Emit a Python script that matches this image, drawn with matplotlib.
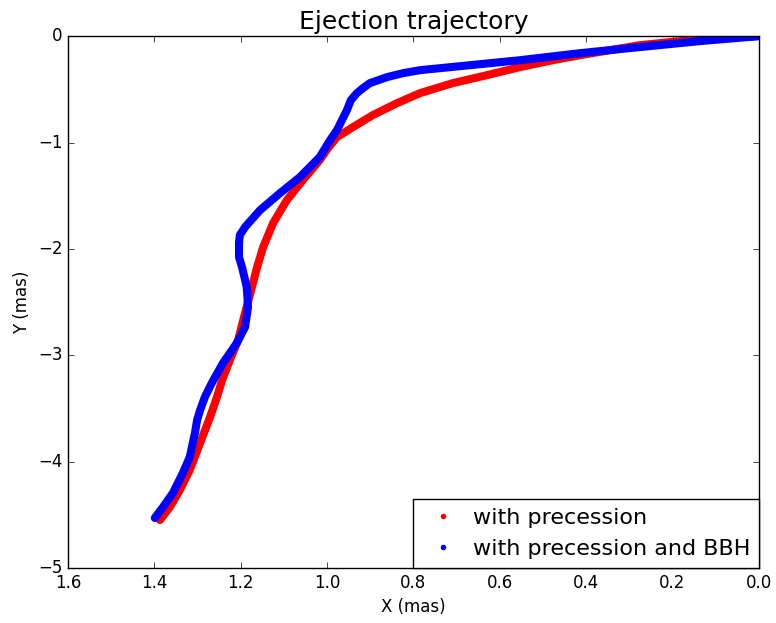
import matplotlib
matplotlib.use('Agg')
import matplotlib.pyplot as plt
from matplotlib.lines import Line2D

plt.style.use('classic')

# trajectory with precession only (mas)
x_prec = [0.0, 0.137, 0.276, 0.414, 0.477, 0.553, 0.630, 0.709, 0.785, 0.838,
          0.894, 0.940, 0.977, 0.998, 1.017, 1.056, 1.093, 1.125, 1.148, 1.162, 1.174,
          1.190, 1.206, 1.225, 1.243, 1.255, 1.271, 1.294, 1.318, 1.341, 1.364, 1.387]
y_prec = [0.0, -0.028, -0.085, -0.179, -0.226, -0.291, -0.367, -0.442, -0.536, -0.630,
          -0.742, -0.855, -0.949, -1.053, -1.165, -1.353, -1.541, -1.758, -1.983, -2.171, -2.359,
          -2.603, -2.857, -3.045, -3.233, -3.393, -3.581, -3.825, -4.079, -4.267, -4.427, -4.549]

# trajectory with precession and binary black hole (mas)
x_bbh = [0.0, 0.137, 0.276, 0.414, 0.553, 0.669, 0.785, 0.824, 0.861, 0.901, 0.917,
         0.931, 0.945, 0.954, 0.977, 0.993, 1.017, 1.063, 1.109, 1.155, 1.190, 1.202,
         1.204, 1.204, 1.197, 1.186, 1.183, 1.190, 1.209, 1.241, 1.267, 1.283, 1.294,
         1.301, 1.306, 1.318, 1.334, 1.357, 1.380, 1.399]
y_bbh = [0.0, -0.047, -0.103, -0.160, -0.226, -0.273, -0.320, -0.348, -0.385, -0.442, -0.489,
         -0.536, -0.602, -0.695, -0.883, -0.977, -1.137, -1.325, -1.476, -1.635, -1.795, -1.870,
         -1.945, -2.077, -2.171, -2.359, -2.547, -2.735, -2.885, -3.073, -3.261, -3.393, -3.515,
         -3.609, -3.731, -3.957, -4.107, -4.295, -4.427, -4.530]

fig = plt.figure(figsize=(7.76, 6.23), dpi=100, facecolor='white')
ax = fig.add_axes([0.0876, 0.0883, 0.8904, 0.8537])

ax.plot(x_prec, y_prec, color='red', lw=5.8, solid_capstyle='round', solid_joinstyle='round')
ax.plot(x_bbh, y_bbh, color='blue', lw=5.8, solid_capstyle='round', solid_joinstyle='round')

ax.set_xlim(1.6, 0.0)
ax.set_ylim(-5, 0)
ax.set_xticks([1.6, 1.4, 1.2, 1.0, 0.8, 0.6, 0.4, 0.2, 0.0])
ax.set_xticklabels(['1.6', '1.4', '1.2', '1.0', '0.8', '0.6', '0.4', '0.2', '0.0'])
ax.set_yticks([0, -1, -2, -3, -4, -5])

ax.set_title('Ejection trajectory', fontsize=18)
ax.set_xlabel('X (mas)', fontsize=12)
ax.set_ylabel('Y (mas)', fontsize=12)

handles = [Line2D([], [], ls='none', marker='o', ms=4, mew=0, color='red'),
           Line2D([], [], ls='none', marker='o', ms=4, mew=0, color='blue')]
ax.legend(handles, ['with precession', 'with precession and BBH'], loc='lower right',
          numpoints=1, fontsize=16, borderaxespad=0, fancybox=False,
          handlelength=1.9, handletextpad=0.4, labelspacing=0.5)

fig.savefig('out.png', dpi=100, facecolor='white')
